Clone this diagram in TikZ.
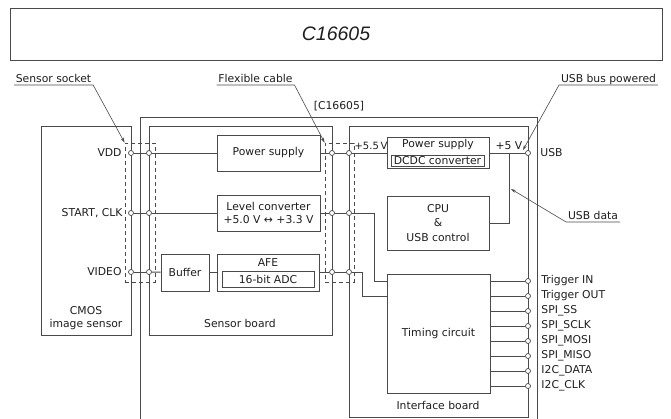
\documentclass[tikz,border=0pt]{standalone}
\usepackage{fontspec}
\setmainfont{DejaVu Sans}
\newfontfamily\titlefont{Liberation Sans}
\usetikzlibrary{arrows.meta}
\definecolor{linec}{HTML}{4A4A4A}
\definecolor{txtc}{HTML}{1E1E1E}
\newcommand\fs{\fontsize{10.8}{12.6}\selectfont}
\begin{document}
\begin{tikzpicture}[x=1pt,y=-1pt,line width=0.9pt,
  blk/.style={draw=linec,inner sep=0pt,font=\fs,text=txtc},
  port/.style={circle,draw=linec,fill=white,inner sep=0pt,minimum size=5pt,line width=0.7pt},
  dbox/.style={draw=linec,dash pattern=on 4pt off 3pt,inner sep=0pt},
  wire/.style={draw=linec},
  lbl/.style={font=\fs,text=txtc,inner sep=0pt},
  ulbl/.style={font=\fs,text=txtc,inner xsep=1.5pt,inner ysep=2.5pt,text depth=0pt,anchor=south},
  lead/.style={draw=linec,line width=0.6pt,-{Stealth[length=5pt,width=3.2pt]}}]
\useasboundingbox (0,0) rectangle (671,418);

% title
\node[draw=linec,minimum width=652pt,minimum height=52pt,inner sep=0pt,
      font=\titlefont\itshape\fontsize{19.5}{22}\selectfont,text=txtc] (title) at (336,34) {C16605};

% outer frame
\node[lbl] (frame) at (339,106) {[C16605]};
\draw[wire] (140,420) -- (140,117) -- (537,117) -- (537,420);

% dashed socket and cable
\node[dbox,minimum width=30pt,minimum height=139pt] (socket) at (140,212.5) {};
\node[dbox,minimum width=29pt,minimum height=139pt] (cable) at (339.5,212.5) {};

% main boards
\node[blk,minimum width=90pt,minimum height=209pt] (cmos) at (86,230.5) {};
\node[lbl,align=center] (cmoslbl) at (86,318) {CMOS\\image sensor};
\node[blk,minimum width=183pt,minimum height=209pt] (sboard) at (240.5,230.5) {};
\node[lbl] (sboardlbl) at (240,323) {Sensor board};
\node[blk,minimum width=179pt,minimum height=291pt] (iface) at (438.5,271.5) {};
\node[lbl] (ifacelbl) at (438,405) {Interface board};

% sensor board blocks
\node[blk,minimum width=103pt,minimum height=36pt] (ps1) at (268.5,153) {Power supply};
\node[blk,minimum width=103pt,minimum height=36pt,align=center] (lc) at (268.5,213) {Level converter\\+5.0 V ↔ +3.3 V};
\node[blk,minimum width=48pt,minimum height=37pt] (buf) at (185,272.5) {Buffer};
\node[blk,minimum width=102pt,minimum height=37pt] (afe) at (268,272.5) {};
\node[lbl] (afelbl) at (268,263) {AFE};
\node[blk,minimum width=92pt,minimum height=16pt] (adc) at (268,279) {16-bit ADC};

% interface board blocks
\node[blk,minimum width=102pt,minimum height=31pt] (ps2) at (438,152.5) {};
\node[lbl] (ps2lbl) at (438,145) {Power supply};
\node[blk,minimum width=93pt,minimum height=11pt] (dcdc) at (437.5,161) {DCDC converter};
\node[blk,minimum width=102pt,minimum height=54pt,align=center] (cpu) at (438,223) {CPU\\[2pt]\&\\[2pt]USB control};
\node[blk,minimum width=103pt,minimum height=119pt] (timing) at (438.5,333.5) {Timing circuit};

% rows
\foreach \n/\y in {a/153,b/213,c/272}{
  \node[port] (p1\n) at (131,\y) {};
  \node[port] (p2\n) at (149,\y) {};
  \node[port] (p3\n) at (332,\y) {};
  \node[port] (p4\n) at (349,\y) {};
  \draw[wire] (p1\n) -- (p2\n);
  \draw[wire] (p3\n) -- (p4\n);
}
\node[lbl,anchor=east] (vdd) at (122,153) {VDD};
\node[lbl,anchor=east] (start) at (123,213) {START, CLK};
\node[lbl,anchor=east] (video) at (122,272) {VIDEO};

\draw[wire] (p2a) -- (ps1);
\draw[wire] (ps1) -- (p3a);
\draw[wire] (p2b) -- (lc);
\draw[wire] (lc) -- (p3b);
\draw[wire] (p2c) -- (buf);
\draw[wire] (buf) -- (afe);
\draw[wire] (afe.east |- p3c) -- (p3c);

% interface wiring
\node[port] (usb) at (528,153) {};
\node[lbl,anchor=west] (usblbl) at (540,153) {USB};
\node[lbl,font=\fontsize{10}{12}\selectfont] (v55) at (371,146) {+5.5\,V};
\node[lbl] (v5) at (509,146) {+5 V};
\draw[wire] (p4a) -- (p4a -| ps2.west);
\draw[wire] (ps2.east |- usb) -- (usb);
\coordinate (j) at (509,153);
\draw[wire] (j) |- (cpu.east);

\foreach \n/\y/\t in {tin/281/Trigger IN,tout/296/Trigger OUT,ss/311/SPI\_SS,sclk/326/SPI\_SCLK,
  mosi/341/SPI\_MOSI,miso/356/SPI\_MISO,idat/371/I2C\_DATA,iclk/386/I2C\_CLK}{
  \node[port] (\n) at (528,\y) {};
  \node[lbl,anchor=west] (\n lbl) at (541,\y) {\t};
  \draw[wire] (timing.east |- \n) -- (\n);
}
\draw[wire] (p4b) -- (374,213) |- (timing.west |- tin);
\draw[wire] (p4c) -- (362,272) |- (timing.west |- tout);

% leaders
\node[ulbl] (sockl) at (53.5,85) {Sensor socket};
\draw[lead] (sockl.south west) -- (sockl.south east) -- (socket.north west);
\node[ulbl] (cablel) at (255.5,85) {Flexible cable};
\draw[lead] (cablel.south west) -- (cablel.south east) -- (cable.north west);
\node[ulbl] (busl) at (608.5,85) {USB bus powered};
\coordinate (busp) at (523,150);
\draw[lead] (busl.south east) -- (busl.south west) -- (busp);
\node[ulbl] (datal) at (593,222) {USB data};
\coordinate (usbd) at (511,189);
\draw[lead] (datal.south east) -- (datal.south west) -- (usbd);
\end{tikzpicture}
\end{document}
